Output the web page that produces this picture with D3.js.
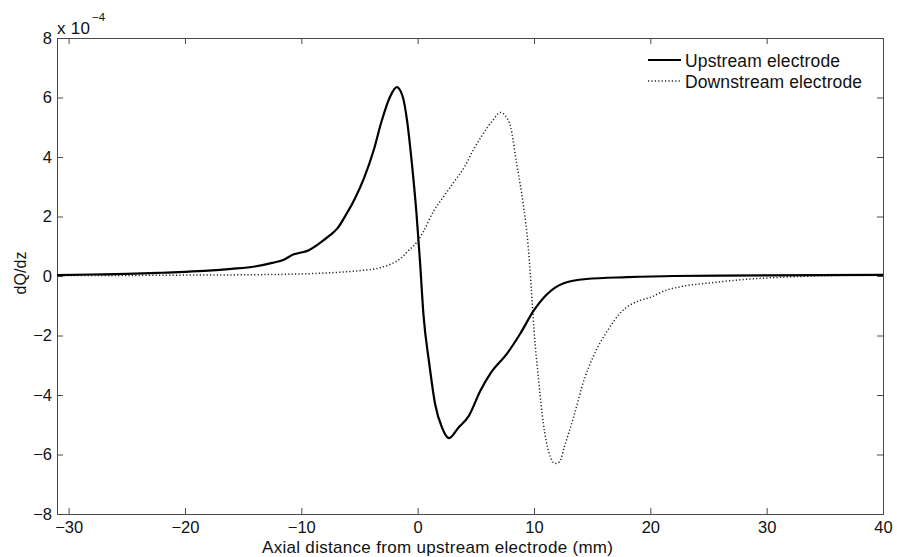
<!DOCTYPE html>
<html>
<head>
<meta charset="utf-8">
<script src="https://cdn.jsdelivr.net/npm/d3@7"></script>
<style>
  html, body { margin: 0; padding: 0; background: #fff; }
  svg { display: block; font-family: "Liberation Sans", Arial, Helvetica, sans-serif; }
</style>
</head>
<body>
<svg id="chart" width="897" height="557"></svg>
<script>
// ---- Data (values in units of 1e-4) ----
const upX = [-31, -28, -25, -22, -20, -18, -16, -14, -12.5, -11.5, -10.7, -10.1, -9.4, -8.8, -8.1, -7.5, -6.9, -6.1, -5.4, -4.6, -3.8, -3.1, -2.4, -1.8, -1.3, -0.9, -0.5, -0.1, 0.2, 0.5, 1.0, 1.5, 2.1, 2.7, 3.5, 4.4, 5.4, 6.3, 7.7, 8.8, 10.0, 11.1, 12.5, 14.5, 18, 22, 30, 40];
const upY = [0.03, 0.05, 0.07, 0.11, 0.14, 0.18, 0.24, 0.32, 0.44, 0.55, 0.72, 0.78, 0.86, 1.0, 1.2, 1.38, 1.6, 2.1, 2.6, 3.3, 4.2, 5.2, 6.0, 6.35, 6.05, 5.2, 3.8, 2.1, 0.5, -1.3, -2.95, -4.3, -5.1, -5.45, -5.1, -4.7, -3.85, -3.25, -2.6, -1.95, -1.15, -0.62, -0.25, -0.1, -0.04, 0.0, 0.02, 0.04];

const downX = [-31, -25, -20, -15, -10, -7, -5, -3.2, -2.3, -1.5, -0.8, -0.05, 0.5, 1.4, 2.2, 3.1, 4.0, 4.8, 5.5, 6.0, 6.5, 6.9, 7.1, 7.5, 8.0, 8.5, 9.1, 9.5, 9.75, 10.0, 10.4, 10.8, 11.3, 11.8, 12.2, 12.6, 13.4, 14.3, 15.1, 16.3, 17.4, 19.1, 20.0, 21.2, 22.6, 25.4, 28.3, 32.6, 36, 40];
const downY = [0.02, 0.02, 0.03, 0.04, 0.07, 0.12, 0.18, 0.28, 0.4, 0.58, 0.85, 1.15, 1.5, 2.2, 2.65, 3.15, 3.65, 4.25, 4.7, 5.0, 5.25, 5.45, 5.5, 5.4, 5.0, 3.8, 2.35, 1.0, -0.3, -1.8, -3.5, -4.95, -5.95, -6.3, -6.25, -5.75, -4.75, -3.5, -2.7, -1.85, -1.25, -0.82, -0.72, -0.5, -0.36, -0.22, -0.11, -0.02, 0.02, 0.03];

const xTicks = [-30, -20, -10, 0, 10, 20, 30, 40];
const yTicks = [-8, -6, -4, -2, 0, 2, 4, 6, 8];
const seriesNames = ["Upstream electrode", "Downstream electrode"];
const xLabel = "Axial distance from upstream electrode (mm)";
const yLabel = "dQ/dz";

// ---- Layout ----
const L = 57, R = 883, T = 38, B = 514;
const svg = d3.select("#chart");
const x = d3.scaleLinear().domain([-31, 40]).range([L, R]);
const y = d3.scaleLinear().domain([-8, 8]).range([B, T]);
const axisColor = "#4a4a4a";
const textColor = "#111";
const tickLen = 6;
const fmt = d => (d < 0 ? "\u2212" + Math.abs(d) : String(d));

// Axes (MATLAB style box with inward ticks on all sides)
const gB = svg.append("g").attr("transform", `translate(0,${B})`)
  .call(d3.axisBottom(x).tickValues(xTicks).tickSize(-tickLen).tickPadding(7.5).tickFormat(fmt));
const gT = svg.append("g").attr("transform", `translate(0,${T})`)
  .call(d3.axisTop(x).tickValues(xTicks).tickSize(-tickLen).tickFormat(""));
const gL = svg.append("g").attr("transform", `translate(${L},0)`)
  .call(d3.axisLeft(y).tickValues(yTicks).tickSize(-tickLen).tickPadding(5).tickFormat(fmt));
const gR = svg.append("g").attr("transform", `translate(${R},0)`)
  .call(d3.axisRight(y).tickValues(yTicks).tickSize(-tickLen).tickFormat(""));

[gB, gT, gL, gR].forEach(g => {
  g.select(".domain").attr("stroke", axisColor).attr("stroke-width", 1);
  g.selectAll(".tick line").attr("stroke", axisColor).attr("stroke-width", 1);
  g.selectAll(".tick text").attr("fill", textColor).style("font-size", "16.5px")
    .style("font-family", '"Liberation Sans", Arial, sans-serif');
});

// Lines
const lineGen = d3.line().x(d => x(d[0])).y(d => y(d[1])).curve(d3.curveMonotoneX);
const upData = upX.map((v, i) => [v, upY[i]]);
const downData = downX.map((v, i) => [v, downY[i]]);

svg.append("path").datum(downData).attr("d", lineGen)
  .attr("fill", "none").attr("stroke", "#222").attr("stroke-width", 1.5)
  .attr("stroke-dasharray", "1.2,2.2");
svg.append("path").datum(upData).attr("d", lineGen)
  .attr("fill", "none").attr("stroke", "#000").attr("stroke-width", 2.2)
  .attr("stroke-linejoin", "round");

// Exponent label
svg.append("text").attr("x", 57).attr("y", 33.5).attr("fill", textColor)
  .style("font-size", "17px").attr("textLength", 33).text("x 10");
svg.append("text").attr("x", 92).attr("y", 21).attr("fill", textColor)
  .style("font-size", "11.5px").text("\u22124");

// Axis labels
svg.append("text").attr("x", 262).attr("y", 552.5)
  .attr("fill", textColor).style("font-size", "17px")
  .attr("textLength", 351).attr("lengthAdjust", "spacing").text(xLabel);
svg.append("text").attr("transform", "translate(25.5,294.5) rotate(-90)")
  .attr("fill", textColor).style("font-size", "16px")
  .attr("textLength", 43).text(yLabel);

// Legend
const leg = svg.append("g");
const legY = [60, 81];
const legLen = [155, 177];
leg.append("line").attr("x1", 648).attr("x2", 681).attr("y1", legY[0]).attr("y2", legY[0])
  .attr("stroke", "#000").attr("stroke-width", 2.2);
leg.append("line").attr("x1", 648).attr("x2", 681).attr("y1", legY[1]).attr("y2", legY[1])
  .attr("stroke", "#222").attr("stroke-width", 1.5).attr("stroke-dasharray", "1.2,2.2");
seriesNames.forEach((s, i) => {
  leg.append("text").attr("x", 685).attr("y", legY[i] + 6.5).attr("fill", textColor)
    .style("font-size", "17.5px").attr("textLength", legLen[i])
    .attr("lengthAdjust", "spacing").text(s);
});
</script>
</body>
</html>
